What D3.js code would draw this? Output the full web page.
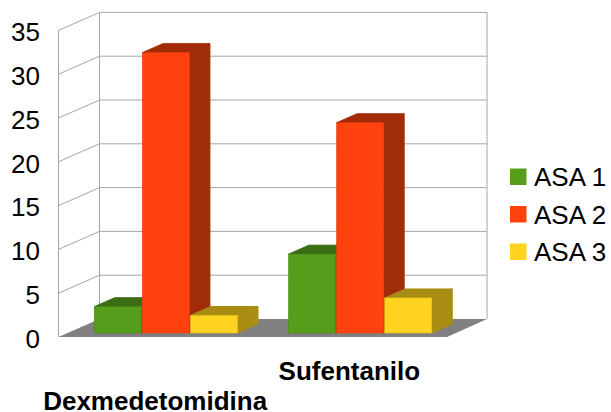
<!DOCTYPE html>
<html lang="en">
<head>
<meta charset="UTF-8">
<title>ASA por fármaco</title>
<script src="https://d3js.org/d3.v7.min.js"></script>
<style>
    html, body { margin: 0; padding: 0; background: #fff; }
    svg { display: block; }
    text { font-family: "Liberation Sans", Arial, sans-serif; fill: #000; }
</style>
</head>
<body>
<div id="chart-container"></div>
<script>
    const categories = ["Dexmedetomidina", "Sufentanilo"];
    const seriesNames = ["ASA 1", "ASA 2", "ASA 3"];
    const asa1 = [3, 9];
    const asa2 = [32, 24];
    const asa3 = [2, 4];
    const yTicks = [0, 5, 10, 15, 20, 25, 30, 35];

    const seriesValues = [asa1, asa2, asa3];
    const COLORS = [
        {front: "#579d1c", top: "#3b6d12", side: "#3f7414", edge: "#4a8a17"},
        {front: "#ff420e", top: "#a32b08", side: "#a02c0a", edge: "#e63a0b"},
        {front: "#ffd320", top: "#a88c14", side: "#a98d15", edge: "#e8c01c"}
    ];

    const WIDTH = 611;
    const HEIGHT = 412;
    const LEFT = 58.5;
    const RIGHT = 447;
    const BASE = 337;
    const TOP = 30.4;
    // oblique offset of the back wall relative to the front edge
    const DEPTH = {X: 41, Y: -18};

    const svg = d3.select("#chart-container").append("svg")
        .attr("width", WIDTH)
        .attr("height", HEIGHT);

    const x = d3.scaleBand().domain(categories).range([LEFT, RIGHT]);
    const inner = d3.scaleBand().domain(seriesNames).range([0, x.bandwidth()]).paddingOuter(0.52).paddingInner(0);
    const y = d3.scaleLinear().domain([0, 35]).range([BASE, TOP]);

    const poly = pts => pts.map(p => p.join(",")).join(" ");

    // floor
    svg.append("polygon")
        .attr("points", poly([
            [LEFT, BASE], [LEFT + DEPTH.X, BASE + DEPTH.Y],
            [RIGHT + DEPTH.X - 1, BASE + DEPTH.Y], [RIGHT, BASE]
        ]))
        .attr("fill", "#808080");

    // walls and gridlines
    const grid = svg.append("g").attr("fill", "none").attr("stroke", "#a6a6a6").attr("stroke-width", 1);
    yTicks.forEach(t => {
        if (t === 0) return;
        const yf = y(t);
        grid.append("polyline")
            .attr("points", poly([
                [LEFT, yf], [LEFT + DEPTH.X, yf + DEPTH.Y], [RIGHT + DEPTH.X - 1, yf + DEPTH.Y]
            ]));
    });
    grid.append("line")
        .attr("x1", LEFT).attr("x2", LEFT)
        .attr("y1", y(0)).attr("y2", y(35));
    grid.append("line")
        .attr("x1", LEFT + DEPTH.X).attr("x2", LEFT + DEPTH.X)
        .attr("y1", y(0) + DEPTH.Y).attr("y2", y(35) + DEPTH.Y);
    grid.append("line")
        .attr("x1", RIGHT + DEPTH.X - 1).attr("x2", RIGHT + DEPTH.X - 1)
        .attr("y1", y(0) + DEPTH.Y).attr("y2", y(35) + DEPTH.Y);

    // bars sit in the middle half of the floor depth
    const barOffX = DEPTH.X * 0.25;
    const barOffY = DEPTH.Y * 0.25 + 0.5;
    const barDX = DEPTH.X * 0.5;
    const barDY = DEPTH.Y * 0.5;

    const groups = svg.selectAll(".group").data(categories).enter().append("g")
        .attr("class", "group")
        .attr("transform", d => `translate(${x(d) + barOffX}, ${barOffY})`);

    groups.each(function(cat, ci) {
        const g = d3.select(this);
        seriesNames.forEach((name, si) => {
            const value = seriesValues[si][ci];
            const x0 = inner(name) + 0.5;
            const x1 = inner(name) + inner.bandwidth() - 0.5;
            const y0 = y(value);
            const y1 = y(0);
            const c = COLORS[si];
            g.append("polygon")
                .attr("points", poly([[x1, y0], [x1 + barDX, y0 + barDY], [x1 + barDX, y1 + barDY], [x1, y1]]))
                .attr("fill", c.side).attr("stroke", c.side).attr("stroke-linejoin", "round");
            g.append("polygon")
                .attr("points", poly([[x0, y0], [x0 + barDX, y0 + barDY], [x1 + barDX, y0 + barDY], [x1, y0]]))
                .attr("fill", c.top).attr("stroke", c.top).attr("stroke-linejoin", "round");
            g.append("rect")
                .attr("x", x0).attr("y", y0)
                .attr("width", x1 - x0).attr("height", y1 - y0)
                .attr("fill", c.front)
                .attr("stroke", c.edge).attr("stroke-width", 0.6);
        });
    });

    // value axis labels
    const yAxis = svg.append("g")
        .attr("transform", `translate(${LEFT - 18.5}, 2)`)
        .call(d3.axisLeft(y).tickValues(yTicks).tickSize(0).tickPadding(0));
    yAxis.select(".domain").remove();
    yAxis.selectAll("text")
        .attr("font-size", 26)
        .style("font-family", '"Liberation Sans", Arial, sans-serif');

    // category labels, staggered on two rows
    const xAxis = svg.append("g")
        .attr("transform", `translate(-0.5, ${BASE})`)
        .call(d3.axisBottom(x).tickSize(0).tickPadding(0));
    xAxis.select(".domain").remove();
    xAxis.selectAll("text")
        .attr("font-size", 26)
        .attr("font-weight", "bold")
        .style("font-family", '"Liberation Sans", Arial, sans-serif')
        .attr("dy", null)
        .attr("y", (d, i) => i === 0 ? 73 : 42.5);

    // legend
    const legend = d3.scalePoint().domain(seriesNames).range([177, 252]);
    const items = svg.selectAll(".legend").data(seriesNames).enter().append("g")
        .attr("class", "legend")
        .attr("transform", d => `translate(510, ${legend(d)})`);
    items.append("rect")
        .attr("x", 0).attr("y", -8.5)
        .attr("width", 16.5).attr("height", 16.5)
        .attr("fill", (d, i) => COLORS[i].front);
    items.append("text")
        .attr("x", 24).attr("y", 9)
        .attr("font-size", 26)
        .text(d => d);
</script>
</body>
</html>
